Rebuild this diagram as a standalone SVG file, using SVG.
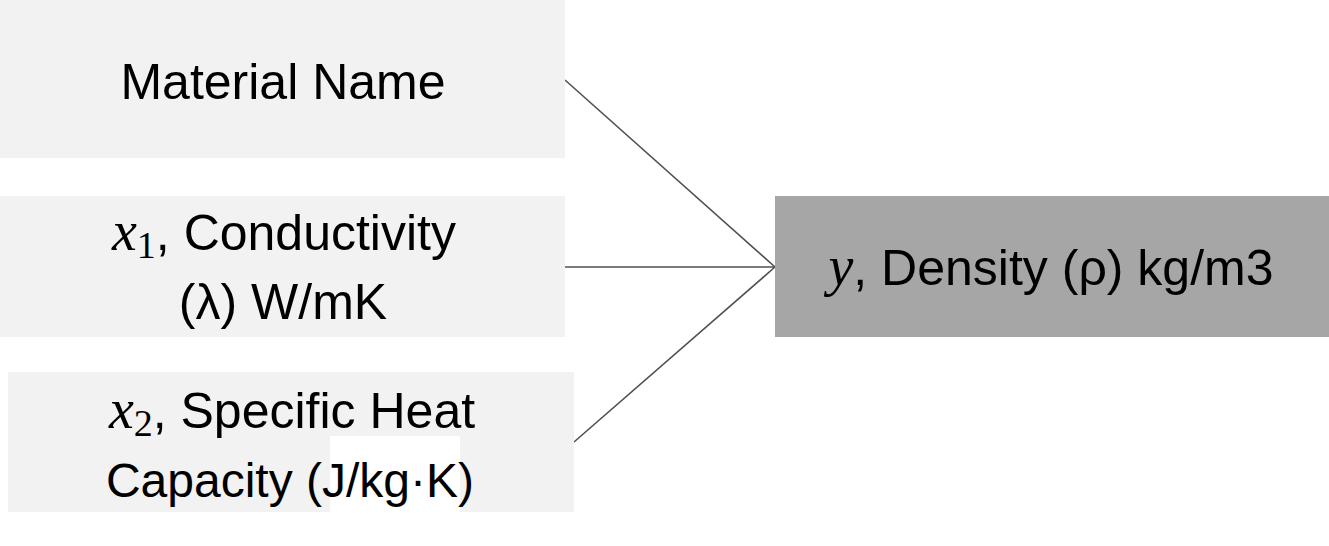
<svg xmlns="http://www.w3.org/2000/svg" width="1329" height="546" viewBox="0 0 1329 546">
<style>
.in{fill:#f2f2f2}
.out{fill:#a6a6a6}
.t{font-family:"Liberation Sans",Arial,sans-serif;font-size:50px;fill:#000;text-anchor:middle}
.m{font-family:"Liberation Serif","Times New Roman",serif;font-style:italic;font-size:56px}
.s{font-family:"Liberation Serif","Times New Roman",serif;font-size:38px}
.c{stroke:#505050;stroke-width:1.6;fill:none}
</style>
<rect width="1329" height="546" fill="#fff"/>
<g id="connectors">
<line class="c" x1="565" y1="80" x2="775" y2="267"/>
<line class="c" x1="565" y1="267" x2="775" y2="267"/>
<line class="c" x1="574" y1="442" x2="775" y2="267"/>
</g>
<g id="node-material">
<rect class="in" x="0" y="0" width="565" height="158"/>
<text class="t" x="283" y="99">Material Name</text>
</g>
<g id="node-x1">
<rect class="in" x="0" y="196" width="565" height="141"/>
<text class="t" x="284" y="250"><tspan class="m">x</tspan><tspan class="s" dy="8">1</tspan><tspan dy="-8">, Conductivity</tspan></text>
<text class="t" x="283" y="319">(λ) W/mK</text>
</g>
<g id="node-x2">
<rect class="in" x="8" y="372" width="566" height="140"/>
<rect x="330" y="436" width="130" height="76" fill="#fff"/>
<text class="t" x="292" y="428"><tspan class="m">x</tspan><tspan class="s" dy="8">2</tspan><tspan dy="-8">, Specific Heat</tspan></text>
<text class="t" x="290" y="497" style="font-size:48px">Capacity (J/kg·K)</text>
</g>
<g id="node-y">
<rect class="out" x="775" y="196" width="554" height="141"/>
<text class="t" x="1051" y="285"><tspan class="m">y</tspan>, Density (ρ) kg/m3</text>
</g>
</svg>
